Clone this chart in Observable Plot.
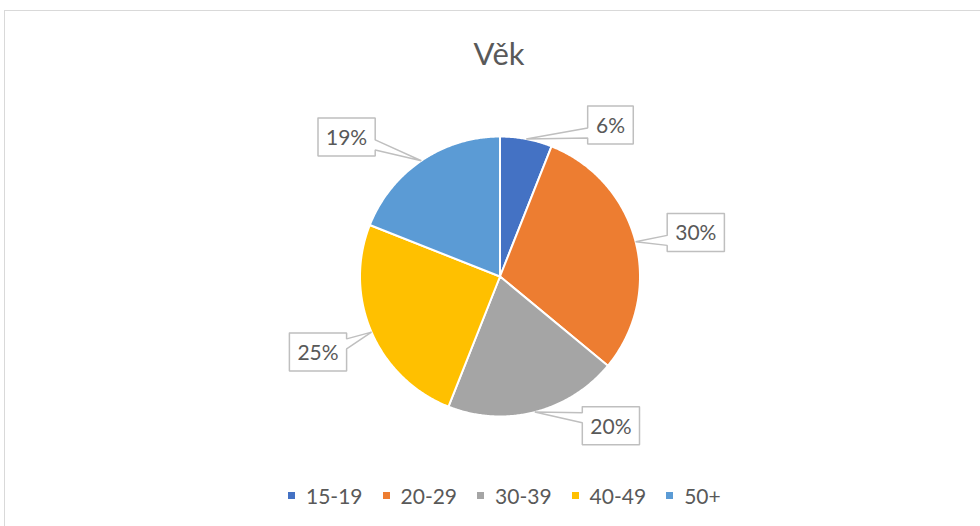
<!DOCTYPE html>
<html>
<head>
<meta charset="utf-8">
<script src="https://cdn.jsdelivr.net/npm/d3@7"></script>
<script src="https://cdn.jsdelivr.net/npm/@observablehq/plot@0.6"></script>
<style>
  html, body { margin: 0; padding: 0; background: #fff; width: 980px; height: 526px; overflow: hidden; font-family: Lato, "Open Sans", sans-serif; }
  #frame { position: absolute; left: 4px; top: 10px; width: 1200px; height: 800px; border: 1px solid #d9d9d9; box-sizing: border-box; }
  #wrap { position: relative; padding-top: 33px; width: 980px; }
  #title { height: 40px; line-height: 40px; font-size: 31px; color: #595959; text-align: center; padding-left: 18px; box-sizing: border-box; width: 980px; }
  #chart svg { display: block; overflow: visible; }
  #legend { display: flex; align-items: center; height: 44px; margin-left: 288px; font-size: 21px; color: #595959; }
  #legend .sw { width: 7px; height: 7px; margin-right: 11px; }
  #legend .it { display: flex; align-items: center; margin-right: 20px; }
</style>
</head>
<body>
<div id="frame"></div>
<div id="wrap">
  <div id="title">Věk</div>
  <div id="chart"></div>
  <div id="legend"></div>
</div>
<script>
// ---- data ----
const ages = ["15-19", "20-29", "30-39", "40-49", "50+"];
const shares = [6, 30, 20, 25, 19];
const colors = ["#4472C4", "#ED7D31", "#A5A5A5", "#FFC000", "#5B9BD5"];

// ---- layout ----
const labelTurn = [25.3, 1.7, -22.2, 0.9, -13.5]; // deg nudge of callout from slice mid-angle
const labelDist = [187.5, 200.7, 186, 197, 207.4]; // px from pie centre
const W = 980, H = 400, CX = 499.5, CY = 203, R = 140;

const data = ages.map((age, i) => ({age, value: shares[i]}));
const total = d3.sum(shares);
const arcs = d3.pie().sort(null).value(d => d.value)(data);
const polar = (a, rho) => [rho * Math.sin(a), -rho * Math.cos(a)];

const slicePts = [];
arcs.forEach(a => {
  const age = a.data.age;
  slicePts.push({age, x: 0, y: 0});
  const n = Math.max(2, Math.ceil((a.endAngle - a.startAngle) / (Math.PI / 360)));
  for (let k = 0; k <= n; k++) {
    const t = a.startAngle + (a.endAngle - a.startAngle) * k / n;
    const [x, y] = polar(t, 1);
    slicePts.push({age, x, y});
  }
  slicePts.push({age, x: 0, y: 0});
});

const calloutPts = [], labels = [];
arcs.forEach((a, i) => {
  const mid = (a.startAngle + a.endAngle) / 2;
  const [tx, ty] = polar(mid, 1);
  const [lx, ly] = polar(mid + labelTurn[i] * Math.PI / 180, labelDist[i] / R);
  const text = Math.round(a.data.value / total * 100) + "%";
  const digits = text.length - 1;
  const bw = (18 + 11.6 * digits + 16) / R, bh = 38 / R;
  const x0 = lx - bw / 2, x1 = lx + bw / 2, y0 = ly - bh / 2, y1 = ly + bh / 2;
  const baseY = Math.min(Math.max(ty, y0 + 11 / R), y1 - 11 / R);
  const hw = 5 / R;
  let poly;
  if (tx < x0) poly = [[x0, y0], [x1, y0], [x1, y1], [x0, y1], [x0, baseY + hw], [tx, ty], [x0, baseY - hw], [x0, y0]];
  else if (tx > x1) poly = [[x0, y0], [x1, y0], [x1, baseY - hw], [tx, ty], [x1, baseY + hw], [x1, y1], [x0, y1], [x0, y0]];
  else poly = [[x0, y0], [x1, y0], [x1, y1], [x0, y1], [x0, y0]];
  poly.forEach(([x, y]) => calloutPts.push({id: a.data.age, x, y}));
  labels.push({x: lx, y: ly + 1 / R, text});
});

const chart = Plot.plot({
  width: W,
  height: H,
  margin: 0,
  style: {fontFamily: "Lato, 'Open Sans', sans-serif", background: "transparent", overflow: "visible"},
  x: {domain: [-CX / R, (W - CX) / R], range: [0, W], axis: null},
  y: {domain: [-CY / R, (H - CY) / R], range: [0, H], axis: null},
  color: {domain: ages, range: colors},
  marks: [
    Plot.line(slicePts, {x: "x", y: "y", z: "age", fill: "age", stroke: "white", strokeWidth: 2, strokeLinejoin: "round"}),
    Plot.line(calloutPts, {x: "x", y: "y", z: "id", fill: "white", stroke: "#bfbfbf", strokeWidth: 1.5, strokeLinejoin: "miter"}),
    Plot.text(labels, {x: "x", y: "y", text: "text", fontSize: 21, fill: "#595959"})
  ]
});
document.getElementById("chart").appendChild(chart);

const legend = document.getElementById("legend");
ages.forEach((age, i) => {
  const it = document.createElement("div");
  it.className = "it";
  const sw = document.createElement("div");
  sw.className = "sw";
  sw.style.background = colors[i];
  const tx = document.createElement("span");
  tx.textContent = age;
  it.appendChild(sw);
  it.appendChild(tx);
  legend.appendChild(it);
});
</script>
</body>
</html>
